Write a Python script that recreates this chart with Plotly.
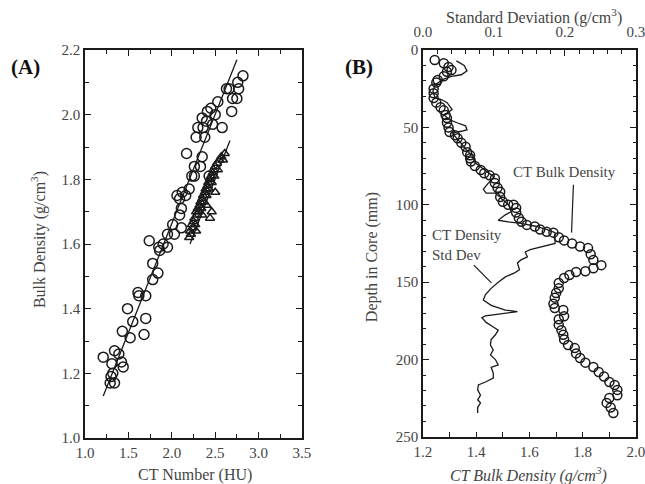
import plotly.graph_objects as go

# ---- Panel A: bulk density vs CT number ----
circ_ct = [1.21, 1.34, 1.39, 1.31, 1.42, 1.44, 1.29, 1.34, 1.32, 1.30,
           1.43, 1.52, 1.49, 1.55, 1.61, 1.62, 1.70, 1.68, 1.70, 1.74,
           1.78, 1.78, 1.84, 1.86, 1.90, 1.95, 1.95, 1.85, 2.03, 2.01,
           2.09, 2.11, 2.11, 2.16, 2.09, 2.06, 2.12, 2.20, 2.17, 2.26,
           2.23, 2.33, 2.35, 2.26, 2.28, 2.30, 2.38, 2.36, 2.35, 2.41,
           2.47, 2.45, 2.53, 2.58, 2.63, 2.69, 2.70, 2.66, 2.77, 2.76,
           2.82, 2.75, 2.43, 2.50, 2.40]
circ_bd = [1.25, 1.27, 1.26, 1.23, 1.235, 1.22, 1.17, 1.17, 1.20, 1.19,
           1.33, 1.31, 1.40, 1.36, 1.45, 1.44, 1.44, 1.32, 1.37, 1.61,
           1.54, 1.49, 1.51, 1.58, 1.60, 1.59, 1.63, 1.59, 1.63, 1.66,
           1.69, 1.65, 1.71, 1.75, 1.74, 1.75, 1.76, 1.77, 1.88, 1.81,
           1.81, 1.84, 1.87, 1.84, 1.93, 1.96, 1.93, 1.96, 1.99, 2.01,
           1.97, 2.02, 2.04, 1.96, 2.08, 2.01, 2.05, 2.08, 2.08, 2.10,
           2.12, 2.05, 1.81, 2.00, 1.98]

tri_ct = [2.20, 2.21, 2.22, 2.23, 2.24, 2.25, 2.26, 2.27, 2.28, 2.29,
          2.30, 2.31, 2.32, 2.33, 2.34, 2.35, 2.36, 2.37, 2.38, 2.39,
          2.40, 2.41, 2.42, 2.43, 2.44, 2.45, 2.46, 2.47, 2.48, 2.49,
          2.50, 2.52, 2.53, 2.55, 2.57, 2.59, 2.61, 2.44, 2.46, 2.40,
          2.50, 2.35, 2.28]
tri_bd = [1.62, 1.64, 1.63, 1.66, 1.65, 1.67, 1.68, 1.66, 1.70, 1.69,
          1.71, 1.70, 1.72, 1.73, 1.71, 1.74, 1.75, 1.73, 1.76, 1.77,
          1.75, 1.78, 1.79, 1.77, 1.80, 1.81, 1.79, 1.82, 1.83, 1.81,
          1.84, 1.85, 1.83, 1.86, 1.87, 1.86, 1.88, 1.68, 1.70, 1.72,
          1.76, 1.69, 1.64]

fit1_ct = [1.21, 2.75]
fit1_bd = [1.13, 2.17]
fit2_ct = [2.21, 2.67]
fit2_bd = [1.60, 1.92]

# ---- Panel B: density profile vs depth ----
prof_bd = [1.244, 1.278, 1.296, 1.307, 1.29, 1.278, 1.255, 1.25, 1.24, 1.24,
           1.24, 1.25, 1.266, 1.278, 1.285, 1.29, 1.29, 1.296, 1.30, 1.32,
           1.33, 1.344, 1.36, 1.366, 1.377, 1.377, 1.38, 1.395, 1.417, 1.43,
           1.45, 1.47, 1.47, 1.48, 1.49, 1.49, 1.50, 1.52, 1.54, 1.55,
           1.55, 1.56, 1.57, 1.59, 1.62, 1.64, 1.665, 1.69, 1.71, 1.73,
           1.76, 1.79, 1.82, 1.83, 1.84, 1.87, 1.84, 1.81, 1.775, 1.75,
           1.73, 1.71, 1.71, 1.70, 1.695, 1.69, 1.695, 1.727, 1.73, 1.71,
           1.71, 1.72, 1.727, 1.73, 1.745, 1.77, 1.775, 1.79, 1.81, 1.84,
           1.86, 1.88, 1.90, 1.92, 1.93, 1.93, 1.90, 1.89, 1.905, 1.915]
prof_depth = [6.5, 8.6, 11, 13, 14, 17, 19.4, 21, 25, 28,
              31, 34, 37, 39, 42, 44, 47, 50, 53, 55,
              57, 60, 62.5, 66, 68, 70, 72, 75, 77.5, 79.6,
              81, 83, 86, 89, 91.5, 95, 98, 100, 100, 102,
              105, 108.5, 111, 113, 114, 116, 117.5, 118, 121, 123,
              125, 127, 128, 132, 135.6, 139, 141, 143, 143.4, 145.4,
              147.3, 150.5, 154, 157, 160, 164, 166.7, 168, 172, 174,
              177.6, 181, 184, 187, 190.6, 192.6, 196, 199, 202, 204.8,
              208, 211, 214.5, 216.4, 219.6, 223, 224.8, 228, 231, 234.5]

sd_val = [0.047, 0.058, 0.062, 0.054, 0.040, 0.028, 0.017, 0.014, 0.017, 0.026,
          0.034, 0.041, 0.030, 0.037, 0.048, 0.060, 0.062, 0.054, 0.041, 0.048,
          0.055, 0.062, 0.069, 0.074, 0.100, 0.092, 0.085, 0.089, 0.106, 0.110,
          0.116, 0.122, 0.124, 0.116, 0.106, 0.120, 0.138, 0.157, 0.175, 0.186,
          0.186, 0.151, 0.144, 0.147, 0.138, 0.133, 0.136, 0.129, 0.116, 0.106,
          0.096, 0.088, 0.085, 0.096, 0.116, 0.133, 0.116, 0.088, 0.083, 0.089,
          0.099, 0.106, 0.102, 0.096, 0.095, 0.099, 0.095, 0.102, 0.106, 0.096,
          0.099, 0.099, 0.088, 0.078, 0.077, 0.081, 0.077, 0.081, 0.077, 0.077]
sd_depth = [7, 10, 13.5, 16, 17, 19, 22.6, 26.5, 31, 32,
            34, 38.5, 42, 45, 47, 49, 51.5, 52.5, 53.6, 57,
            61, 65, 68, 73, 82, 86, 90, 92.5, 92.5, 96,
            98, 101, 104.5, 106.5, 110, 111, 112, 113.7, 116, 118,
            125, 129, 130.5, 133.7, 135.6, 137.6, 142, 144, 146.6, 150,
            154, 158, 161.5, 165, 168, 169, 170, 171.8, 173, 176,
            179, 181, 184, 187, 190.6, 193.8, 197, 200, 203.5, 205,
            208.7, 212, 214.5, 216.4, 219.6, 223, 226, 228, 231, 234.5]

SERIF = "Liberation Serif, Times New Roman, serif"
INK = "#1a1a1a"
TXT = "#444444"

fig = go.Figure()

fig.add_trace(go.Scatter(x=fit1_ct, y=fit1_bd, mode="lines",
                         line=dict(color=INK, width=1.3), xaxis="x", yaxis="y"))
fig.add_trace(go.Scatter(x=fit2_ct, y=fit2_bd, mode="lines",
                         line=dict(color=INK, width=1.3), xaxis="x", yaxis="y"))
fig.add_trace(go.Scatter(x=circ_ct, y=circ_bd, mode="markers", xaxis="x", yaxis="y",
                         marker=dict(symbol="circle-open", size=10, color=INK,
                                     line=dict(width=1.5))))
fig.add_trace(go.Scatter(x=tri_ct, y=tri_bd, mode="markers", xaxis="x", yaxis="y",
                         marker=dict(symbol="triangle-up-open", size=8, color=INK,
                                     line=dict(width=1.5))))

fig.add_trace(go.Scatter(x=sd_val, y=sd_depth, mode="lines", xaxis="x3", yaxis="y2",
                         line=dict(color=INK, width=1.3)))
fig.add_trace(go.Scatter(x=prof_bd, y=prof_depth, mode="markers", xaxis="x2", yaxis="y2",
                         marker=dict(symbol="circle-open", size=9, color=INK,
                                     line=dict(width=1.5))))

axis_common = dict(showline=True, linecolor=INK, linewidth=1.5, ticks="inside",
                   tickcolor=INK, tickwidth=1.2, showgrid=False, zeroline=False,
                   automargin=False, ticklabeloverflow="allow",
                   tickfont=dict(family=SERIF, size=15, color=TXT))

fig.update_layout(
    width=645, height=484,
    margin=dict(t=0, r=0, b=0, l=0, autoexpand=False),
    paper_bgcolor="white", plot_bgcolor="white",
    showlegend=False,
    font=dict(family=SERIF, color=TXT),
    xaxis=dict(axis_common, domain=[0.1318, 0.4682], range=[1.0, 3.5], dtick=0.5,
               tick0=1.0, tickformat=".1f", ticklen=6, mirror="ticks", anchor="y",
               minor=dict(dtick=0.25, tick0=1.0, ticklen=4, ticks="inside",
                          tickcolor=INK, showgrid=False)),
    yaxis=dict(axis_common, domain=[0.095, 0.8967], range=[1.0, 2.2], dtick=0.2,
               tick0=1.0, tickformat=".1f", ticklen=6, mirror="ticks", anchor="x",
               minor=dict(dtick=0.1, tick0=1.0, ticklen=4, ticks="inside",
                          tickcolor=INK, showgrid=False)),
    xaxis2=dict(axis_common, domain=[0.6558, 0.986], range=[1.2, 2.0], dtick=0.2,
                tick0=1.2, tickformat=".1f", ticklen=5, anchor="y2",
                minor=dict(dtick=0.1, tick0=1.2, ticklen=5, ticks="inside",
                           tickcolor=INK, showgrid=False)),
    xaxis3=dict(axis_common, overlaying="x2", side="top", range=[0, 0.3], dtick=0.1,
                tick0=0, tickformat=".1f", ticklen=6, anchor="y2", ticklabelstandoff=5,
                minor=dict(dtick=0.02, tick0=0, ticklen=4, ticks="inside",
                           tickcolor=INK, showgrid=False)),
    yaxis2=dict(axis_common, domain=[0.0972, 0.8967], range=[250, 0], dtick=50,
                tick0=0, ticklen=6, mirror="ticks", anchor="x2",
                minor=dict(dtick=10, tick0=0, ticklen=3, ticks="inside",
                           tickcolor=INK, showgrid=False)),
)

ann = [
    dict(text="CT Number (HU)", x=0.302, y=0.019, size=16),
    dict(text="Bulk Density (g/cm<sup>3</sup>)", x=0.059, y=0.504, size=16, angle=-90),
    dict(text="Standard Deviation (g/cm<sup>3</sup>)", x=0.828, y=0.965, size=16),
    dict(text="<i>CT Bulk Density (g/cm<sup>3</sup>)</i>", x=0.819, y=0.019, size=16),
    dict(text="Depth in Core (mm)", x=0.577, y=0.469, size=16, angle=-90),
    dict(text="<b>(A)</b>", x=0.039, y=0.862, size=21, color="#111111"),
    dict(text="<b>(B)</b>", x=0.557, y=0.862, size=21, color="#111111"),
]
for a in ann:
    fig.add_annotation(text=a["text"], x=a["x"], y=a["y"], xref="paper", yref="paper",
                       xanchor="center", yanchor="middle",
                       showarrow=False, textangle=a.get("angle", 0),
                       font=dict(family=SERIF, size=a["size"], color=a.get("color", TXT)))

fig.add_annotation(text="CT Bulk Density", x=1.732, y=79, xref="x2", yref="y2",
                   showarrow=False, font=dict(family=SERIF, size=15, color=TXT))
fig.add_annotation(text="CT Density<br>Std Dev", x=1.225, y=126, xref="x2", yref="y2",
                   showarrow=False, xanchor="left", align="left",
                   font=dict(family=SERIF, size=15, color=TXT))

fig.add_shape(type="line", xref="x2", yref="y2", x0=1.765, y0=87, x1=1.758, y1=118,
              line=dict(color=INK, width=1.2))
fig.add_shape(type="line", xref="x2", yref="y2", x0=1.391, y0=139, x1=1.457, y1=150.5,
              line=dict(color=INK, width=1.2))

# page body has a default 8px margin; drop it so the figure fills the window
fig.write_html("out.html", config={"displayModeBar": False},
               post_script="document.body.style.margin='0';")
